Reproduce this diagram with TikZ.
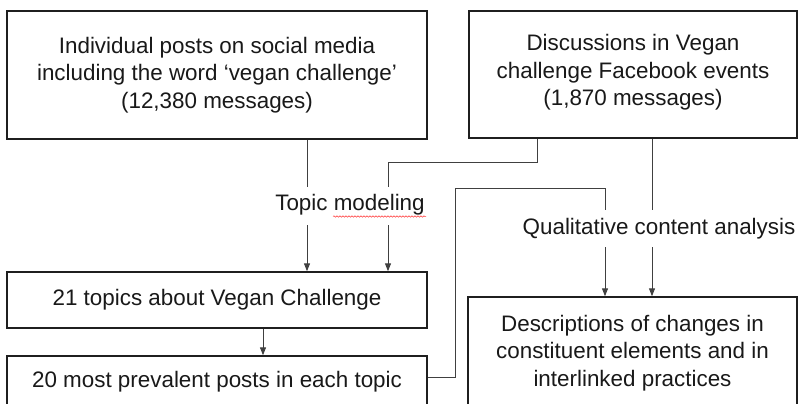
\documentclass[tikz,border=0pt]{standalone}
\usepackage{fontspec}
\setmainfont{Liberation Sans}
\usetikzlibrary{arrows.meta,decorations.pathmorphing}
\begin{document}
\begin{tikzpicture}[x=1pt,y=-1pt,
  box/.style={draw=black!88,line width=1.4pt,inner sep=0pt,align=center,text=black!90,
    font=\fontsize{22.4}{27.5}\selectfont},
  lbl/.style={inner sep=0pt,text=black!90,font=\fontsize{22.4}{27.5}\selectfont},
  conn/.style={draw=black!75,line width=0.9pt},
  arr/.style={conn,-{Triangle[length=8pt,width=6pt]}}]
\useasboundingbox (0,0) rectangle (798,404);
\clip (0,0) rectangle (798,404);
\fill[white] (0,0) rectangle (798,404);
% boxes
\node[box,minimum width=420pt,minimum height=128pt] (A) at (217,75)
  {Individual posts on social media\\including the word ‘vegan challenge’\\(12,380 messages)};
\node[box,minimum width=328pt,minimum height=127pt] (B) at (633,74.5) {};
\node[lbl,align=center] (Bt) at (633,72.5)
  {Discussions in Vegan\\challenge Facebook events\\(1,870 messages)};
\node[box,minimum width=420pt,minimum height=56pt] (C) at (217,300)
  {21 topics about Vegan Challenge};
\node[box,minimum width=420pt,minimum height=52pt] (D) at (217,382)
  {20 most prevalent posts in each topic};
\node[box,minimum width=329pt,minimum height=112pt] (E) at (632.5,353)
  {Descriptions of changes in\\constituent elements and in\\interlinked practices};
% labels
\node[lbl] (tm) at (350,205) {Topic modeling};
\node[lbl] (qa) at (659,229) {Qualitative content analysis};
\draw[red!80,line width=0.5pt,decorate,
  decoration={snake,amplitude=0.7pt,segment length=3pt}] (333,216.5) -- (426,216.5);
% coordinates
\coordinate (a1) at (307,187);
\coordinate (a2) at (307,225);
\coordinate (b0) at (537,0);
\coordinate (bk) at (537,162);
\coordinate (b1) at (388,187);
\coordinate (b2) at (388,225);
\coordinate (c0) at (263,0);
\coordinate (dy) at (0,377);
\coordinate (dk) at (455,377);
\coordinate (dt) at (605,188);
\coordinate (d1) at (605,210);
\coordinate (d2) at (605,247);
\coordinate (e1) at (652,210);
\coordinate (e2) at (652,247);
% connectors
\draw[conn] (A.south -| a1) -- (a1);
\draw[arr] (a2) -- (C.north -| a2);
\draw[conn] (B.south -| b0) -- (bk) -| (b1);
\draw[arr] (b2) -- (C.north -| b2);
\draw[arr] (C.south -| c0) -- (D.north -| c0);
\draw[conn] (D.east |- dy) -- (dk) |- (dt) -- (d1);
\draw[arr] (d2) -- (E.north -| d2);
\draw[conn] (B.south -| e1) -- (e1);
\draw[arr] (e2) -- (E.north -| e2);
\end{tikzpicture}
\end{document}
